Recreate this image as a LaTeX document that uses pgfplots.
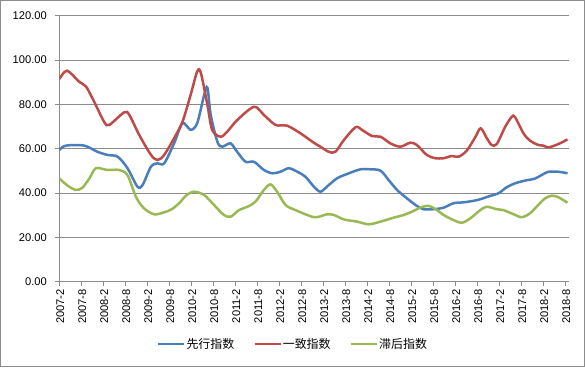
\documentclass[border=0pt]{standalone}
\usepackage{fontspec}
\setmainfont{Liberation Sans}
\newfontfamily\cjk{Noto Sans CJK SC}
\usepackage{pgfplots}
\pgfplotsset{compat=1.18}
\definecolor{cblue}{HTML}{4A7EBB}
\definecolor{cred}{HTML}{BE4B48}
\definecolor{cgreen}{HTML}{98B954}
\definecolor{gridc}{HTML}{8C8C8C}
\begin{document}
\begin{tikzpicture}[x=1bp,y=1bp]
\useasboundingbox (0,0) rectangle (585,367);
\draw[gridc, line width=0.8bp] (0.5,0.5) rectangle (584.5,366.5);
\begin{axis}[
  at={(59.3bp,85.3bp)}, anchor=south west,
  width=509.7bp, height=266bp, scale only axis,
  xmin=0, xmax=139, ymin=0, ymax=120,
  axis x line*=bottom, axis y line*=left,
  axis line style={-, gridc, line width=0.8bp},
  ytick={0,20,...,120},
  ymajorgrids, grid style={gridc, line width=0.8bp},
  xtick={0,6,...,138},
  xticklabels={2007-2,2007-8,2008-2,2008-8,2009-2,2009-8,2010-2,2010-8,2011-2,2011-8,2012-2,2012-8,2013-2,2013-8,2014-2,2014-8,2015-2,2015-8,2016-2,2016-8,2017-2,2017-8,2018-2,2018-8},
  x tick label style={rotate=90, anchor=east, yshift=-1bp},
  tick align=outside, tick style={gridc, line width=0.8bp}, major tick length=4bp,
  yticklabel style={xshift=-5bp, /pgf/number format/fixed, /pgf/number format/fixed zerofill, /pgf/number format/precision=2},
  /pgf/number format/assume math mode=true,
  tick label style={font=\fontsize{11.2}{13}\selectfont, text=black},
  legend style={at={(0.4575,-0.234)}, anchor=center, draw=none, fill=none, legend columns=3,
    font=\cjk\fontsize{12}{14}\selectfont, inner sep=0pt,
    /tikz/every even column/.append style={column sep=18bp},
    nodes={inner sep=1bp}},
  legend image code/.code={\draw[#1] (0bp,0bp) -- (26bp,0bp);},
  every axis plot/.append style={line width=2.5bp, smooth, no markers},
]
\addplot[cblue] coordinates {
(0,59.4) (1.8,61.4) (6.8,61.4) (10.4,58.6) (13.1,57.2) (15.9,56.4) (18.6,51.2) (21.3,42.9) (22.7,43.6) (25,51.9) (26.8,53.4) (28.6,53.4) (31.3,62.4) (33.6,71.5) (35.8,68.5) (37.6,71.5) (39.5,84.2) (40.4,87.5) (41.3,75.2) (43.1,63.2) (44.4,60.9) (46.7,62.4) (48.5,58.6) (50.8,54.1) (53.1,54.1) (55.8,50.4) (58.1,48.9) (60.3,49.6) (62.6,51.2) (64.9,49.6) (67.1,47.4) (69.4,42.9) (71.2,40.6) (73,42.9) (75.7,46.6) (78.5,48.6) (82.1,50.7) (84.8,50.7) (87.6,50.1) (89.8,45.9) (92.1,41.4) (94.8,37.6) (97.5,34.2) (99.3,32.7) (102.1,32.7) (104.8,33.4) (107.5,35.4) (110.2,35.8) (113,36.5) (114.8,37.2) (117.5,38.7) (119.8,39.9) (122,42.6) (124.3,44.4) (127,45.6) (129.7,46.5) (131.5,48.1) (133.4,49.6) (136.1,49.6) (138.6,48.9)
};
\addlegendentry{先行指数}
\addplot[cred] coordinates {
(0,91.4) (2.1,95.2) (5.4,90.2) (7.3,88) (9.5,81.2) (12.2,72.2) (13.6,70.7) (17.7,76.4) (19.1,75.2) (21.8,66.2) (25,57.2) (26.8,54.9) (28.6,57.2) (31.3,64.7) (33.6,72.2) (35.8,84.2) (37.6,94.8) (38.6,94.2) (40.4,79.7) (41.7,68.4) (44,65.4) (45.8,67.7) (48.5,72.9) (53.1,78.9) (55.8,75.2) (59,70.7) (62.1,70.4) (65.8,66.9) (69.4,62.7) (71.2,60.9) (73.5,58.6) (75.3,58.6) (77.6,63.9) (80.8,69.7) (82.6,68.4) (85.3,65.7) (87.6,65.4) (90.3,62.4) (93,60.9) (95.7,62.7) (97.5,61.7) (100.2,57.2) (102.5,55.7) (104.8,55.7) (107,56.7) (108.9,56.4) (111.1,59.1) (113.4,65.1) (114.9,69.2) (116.6,64.7) (117.9,61.7) (119.3,62.1) (121.6,69.9) (123.4,74.4) (124.3,74.2) (126.6,66.9) (128.4,63.6) (130.6,61.7) (132,61.4) (133.4,60.6) (136.1,62.1) (138.6,64.2)
};
\addlegendentry{一致指数}
\addplot[cgreen] coordinates {
(0,46.6) (2.3,43.3) (4.5,41.4) (6.3,42.4) (8.2,46.6) (10,51.2) (13.1,50.4) (16.3,50.4) (18.6,48.1) (20.9,38.3) (23.1,33.1) (25.9,30.4) (28.6,31.3) (30.8,32.8) (33.1,36.1) (34.5,38.8) (36.7,40.6) (39.5,39.1) (42.2,34.6) (44.9,30.1) (46.7,29.3) (49,32.3) (51.3,33.8) (53.5,36.1) (55.8,41.4) (57.6,43.9) (59.4,40.6) (61.7,34.6) (64.4,32.3) (67.6,30.1) (69.4,29.1) (70.8,29.3) (73,30.4) (74.9,30.1) (77.6,28.1) (81.2,27.1) (84.4,25.9) (87.6,27.1) (91.2,28.9) (93.9,30.1) (96.6,31.9) (98.4,33.4) (100.7,34.2) (103,32.3) (104.8,30.1) (107.5,27.8) (109.8,26.6) (112.1,28.6) (114.8,32.3) (116.6,33.8) (119.3,32.7) (121.1,32.3) (123.8,30.5) (126.1,29.1) (128.4,30.9) (130.6,34.6) (132.5,37.6) (134.3,38.8) (136.1,38.1) (138.6,35.6)
};
\addlegendentry{滞后指数}
\end{axis}
\end{tikzpicture}
\end{document}
